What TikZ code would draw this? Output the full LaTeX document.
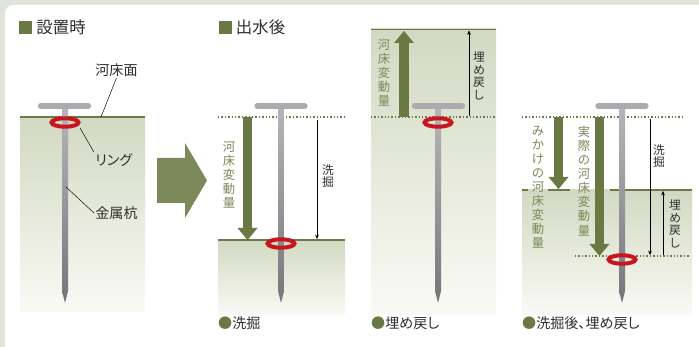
\documentclass[tikz,border=0pt]{standalone}
\usepackage{fontspec}
\setmainfont[RawFeature=+palt]{Noto Sans CJK JP}
\usetikzlibrary{arrows.meta,positioning}
\definecolor{kawaolive}{HTML}{6A7843}
\definecolor{kawamoss}{HTML}{7C8A5B}
\definecolor{kawatext}{HTML}{7A8858}
\definecolor{kawaline}{HTML}{6B7A46}
\definecolor{kawasol}{HTML}{D2D9C2}
\definecolor{kawafond}{HTML}{FAFAF5}
\definecolor{kawared}{HTML}{C8161E}
\definecolor{kawapale}{HTML}{B6B6BA}
\definecolor{kawadark}{HTML}{75757B}
\definecolor{kawahead}{HTML}{ABABAF}
\definecolor{kawaframe}{HTML}{DFE4DC}
\definecolor{kawaink}{HTML}{2E2E2E}

\begin{document}
\begin{tikzpicture}[
    x=0.03cm,y=-0.03cm,
    sol/.style      = {top color=kawasol,bottom color=kawafond,draw=none},
    surface/.style  = {draw=kawaline,line width=1.3pt},
    repere/.style   = {draw=kawaline,line width=1.2pt,dash pattern=on 1.2pt off 1.7pt},
    tige/.style     = {top color=kawapale,bottom color=kawadark,draw=none},
    tete/.style     = {draw=kawahead,line width=0.19cm,line cap=round},
    bague/.style    = {draw=kawared,line width=0.12cm},
    carre/.style    = {rectangle,fill=kawaolive,minimum size=0.39cm,inner sep=0pt},
    titre/.style    = {font=\fontsize{14}{16}\selectfont,text=kawaink,inner sep=0pt},
    lab/.style      = {font=\fontsize{12}{14}\selectfont,text=kawaink,anchor=west,
                       inner sep=1pt},
    legende/.style  = {font=\fontsize{12}{14}\selectfont,text=kawaink,anchor=west,
                       inner sep=0pt},
    vlab/.style     = {font=\fontsize{10.5}{12}\selectfont,text=kawatext,align=center,
                       inner sep=0pt},
    vdim/.style     = {font=\fontsize{10}{10.6}\selectfont,text=kawaink,align=center,
                       inner sep=0pt},
    fleche/.style   = {draw=kawaolive,line width=0.28cm,
                       -{Triangle[width=0.6cm,length=0.36cm,line width=0pt]}},
    cote/.style     = {draw=black,line width=0.4pt,-{Stealth[length=1.3mm,width=1.1mm]}},
    renvoi/.style   = {draw=black,line width=0.4pt},
  ]

  % ── Cadre ───────────────────────────────────────────────────────────────
  \useasboundingbox (0,0) rectangle (699,347);
  \clip (0,0) rectangle (699,347);
  \fill[kawaframe] (0,0) rectangle (699,347);
  \fill[white,rounded corners=0.25cm] (5,5) rectangle (730,380);

  % ── Titres ──────────────────────────────────────────────────────────────
  \node[carre] (c1) at (25.5,27.5) {};
  \node[titre,right=0.12cm of c1] (t1) {設置時};
  \node[carre] (c2) at (225,27.5) {};
  \node[titre,right=0.12cm of c2] (t2) {出水後};

  % ── Sols ────────────────────────────────────────────────────────────────
  \fill[sol] (20,117) rectangle (145,312);
  \fill[sol] (218,240) rectangle (345,315);
  \fill[sol] (371,29) rectangle (496,315);
  \fill[sol] (522,190) rectangle (692,315);

  \draw[surface] (20,117) -- (145,117);
  \draw[surface] (218,240) -- (345,240);
  \draw[surface] (371,29.5) -- (496,29.5);
  \draw[surface] (522,190) -- (528,190);
  \draw[surface] (548,190) -- (570,190);
  \draw[surface] (610,190) -- (692,190);

  \draw[repere] (218,117) -- (345,117);
  \draw[repere] (371,117) -- (496,117);
  \draw[repere] (522,117) -- (685,117);
  \draw[repere] (575,256) -- (690,256);

  % ── Pieux et bagues ─────────────────────────────────────────────────────
  \shade[tige] (62,106) -- (62,291) -- (65,303) -- (68,291) -- (68,106) -- cycle;
  \draw[tete] (41,106) -- (88,106);
  \draw[bague] (65,122.5) ellipse [x radius=13.5,y radius=4.2];

  \shade[tige] (278,106) -- (278,291) -- (281,303) -- (284,291) -- (284,106) -- cycle;
  \draw[tete] (257.5,106) -- (304.5,106);
  \draw[bague] (281,243.5) ellipse [x radius=13.5,y radius=4.2];

  \shade[tige] (435,106) -- (435,291) -- (438,303) -- (441,291) -- (441,106) -- cycle;
  \draw[tete] (415,106) -- (462,106);
  \draw[bague] (438,122.5) ellipse [x radius=13.5,y radius=4.2];

  \shade[tige] (619,106) -- (619,291) -- (622,303) -- (625,291) -- (625,106) -- cycle;
  \draw[tete] (598.5,106) -- (645.5,106);
  \draw[bague] (622,259.5) ellipse [x radius=13.5,y radius=4.2];

  % ── Installation : libellés ─────────────────────────────────────────────
  \node[lab] (lsurf) at (94,70) {河床面};
  \node[lab] (lbague) at (94,160) {リング};
  \node[lab] (lpieu) at (94,213) {金属杭};
  \coordinate (psurf) at (101,117);
  \coordinate (pbague) at (80,128);
  \coordinate (ppieu) at (66,187);
  \draw[renvoi] (lsurf.south) -- (psurf);
  \draw[renvoi] (lbague.north west) -- (pbague);
  \draw[renvoi] (lpieu.west) -- (ppieu);

  % grande flèche de passage
  \fill[kawamoss] (157,158) -- (185,158) -- (185,143) -- (207,180.5)
                  -- (185,218) -- (185,203) -- (157,203) -- cycle;

  % ── 洗掘 ────────────────────────────────────────────────────────────────
  \coordinate (a2h) at (247.5,117);
  \coordinate (a2b) at (247.5,240);
  \coordinate (d2h) at (317,120);
  \coordinate (d2b) at (317,239);
  \draw[fleche] (a2h) -- (a2b);
  \draw[cote] (d2h) -- (d2b);
  \node[vlab] (v2) at (229,174.5) {河\\床\\変\\動\\量};
  \node[vdim] (w2) at (328,176) {洗\\掘};
  \node[legende] (g2) at (218,323) {{\color{kawaolive}●}洗掘};

  % ── 埋め戻し ────────────────────────────────────────────────────────────
  \coordinate (a3b) at (404,117);
  \coordinate (a3h) at (404,31);
  \coordinate (d3b) at (469,116);
  \coordinate (d3h) at (469,30.5);
  \draw[fleche] (a3b) -- (a3h);
  \draw[cote] (d3b) -- (d3h);
  \node[vlab] (v3) at (384,73) {河\\床\\変\\動\\量};
  \node[vdim] (w3) at (479,76) {埋\\め\\戻\\し};
  \node[legende] (g3) at (371,323) {{\color{kawaolive}●}埋め戻し};

  % ── 洗掘後、埋め戻し ────────────────────────────────────────────────────
  \coordinate (a4h) at (558.5,117);
  \coordinate (a4b) at (558.5,189);
  \coordinate (r4h) at (599.5,117);
  \coordinate (r4b) at (599.5,256);
  \coordinate (d4h) at (650,119);
  \coordinate (d4b) at (650,255);
  \coordinate (e4b) at (663,255);
  \coordinate (e4h) at (663,191);
  \draw[fleche] (a4h) -- (a4b);
  \draw[fleche] (r4h) -- (r4b);
  \draw[cote] (d4h) -- (d4b);
  \draw[cote] (e4b) -- (e4h);
  \node[vlab] (v4a) at (538,187) {み\\か\\け\\の\\河\\床\\変\\動\\量};
  \node[vlab] (v4r) at (584,181) {実\\際\\の\\河\\床\\変\\動\\量};
  \node[vdim] (w4a) at (659,156) {洗\\掘};
  \node[vdim] (w4b) at (675,224) {埋\\め\\戻\\し};
  \node[legende] (g4) at (522,323) {{\color{kawaolive}●}洗掘後、埋め戻し};

\end{tikzpicture}
\end{document}
